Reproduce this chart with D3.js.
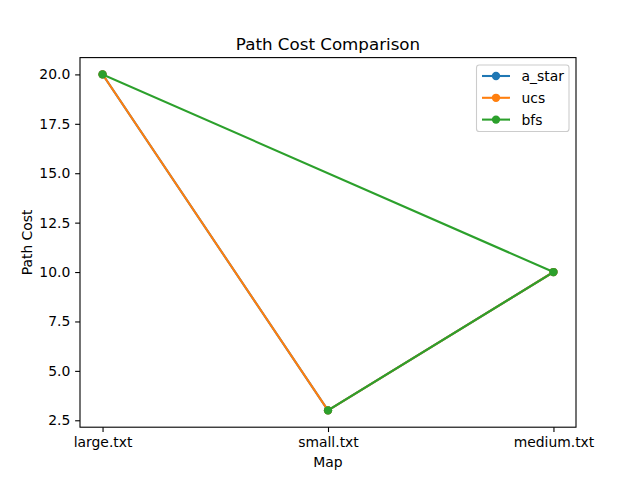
<!DOCTYPE html>
<html><head><meta charset="utf-8">
<script src="https://cdn.jsdelivr.net/npm/d3@7"></script>
<style>body{margin:0;background:#fff}svg{display:block;font-family:"DejaVu Sans",sans-serif}</style>
</head><body>
<svg id="c" width="640" height="480"></svg>
<script>
const categories = ["large.txt", "small.txt", "medium.txt"];
const seriesNames = ["a_star", "ucs", "bfs"];
const colors = ["#1f77b4", "#ff7f0e", "#2ca02c"];
const aStarMaps = ["large.txt", "small.txt", "medium.txt"];
const aStarCost = [20, 3, 10];
const ucsMaps = ["large.txt", "small.txt", "medium.txt"];
const ucsCost = [20, 3, 10];
const bfsMaps = ["large.txt", "medium.txt", "small.txt"];
const bfsCost = [20, 10, 3];
const yTicks = [2.5, 5.0, 7.5, 10.0, 12.5, 15.0, 17.5, 20.0];

const series = [
  {name: seriesNames[0], maps: aStarMaps, cost: aStarCost, color: colors[0]},
  {name: seriesNames[1], maps: ucsMaps, cost: ucsCost, color: colors[1]},
  {name: seriesNames[2], maps: bfsMaps, cost: bfsCost, color: colors[2]},
];

const svg = d3.select("#c");
const L = 80, R = 576, T = 57.6, B = 427.2;
const idx = d3.scaleLinear().domain([-0.1, 2.1]).range([L, R]);
const x = c => idx(categories.indexOf(c));
const allV = [].concat(aStarCost, ucsCost, bfsCost);
const mn = d3.min(allV), mx = d3.max(allV), pad = (mx - mn) * 0.05;
const y = d3.scaleLinear().domain([mn - pad, mx + pad]).range([B, T]);

// axes
const xAxis = d3.axisBottom(d3.scalePoint().domain(categories).range([idx(0), idx(2)]))
  .tickSizeInner(4.86).tickSizeOuter(0).tickPadding(4.86);
const gx = svg.append("g").attr("transform", `translate(0,${B})`).call(xAxis);
const yAxis = d3.axisLeft(y).tickValues(yTicks).tickFormat(d3.format(".1f"))
  .tickSizeInner(4.86).tickSizeOuter(0).tickPadding(4.86);
const gy = svg.append("g").attr("transform", `translate(${L},0)`).call(yAxis);
[gx, gy].forEach(g => {
  g.select(".domain").remove();
  g.selectAll(".tick line").attr("stroke", "#000").attr("stroke-width", 1.1);
  g.selectAll(".tick text").attr("font-size", "13.9px").attr("fill", "#000")
   .attr("font-family", "DejaVu Sans");
});

// lines
const line = d3.line().x(d => x(d[0])).y(d => y(d[1]));
series.forEach(s => {
  const pts = s.maps.map((m, i) => [m, s.cost[i]]);
  svg.append("path").datum(pts).attr("d", line).attr("fill", "none")
    .attr("stroke", s.color).attr("stroke-width", 2.08).attr("stroke-linejoin", "round")
    .attr("stroke-linecap", "square");
  svg.selectAll(null).data(pts).enter().append("circle")
    .attr("cx", d => x(d[0])).attr("cy", d => y(d[1])).attr("r", 4.17)
    .attr("fill", s.color);
});

// frame
svg.append("rect").attr("x", L).attr("y", T).attr("width", R - L).attr("height", B - T)
  .attr("fill", "none").attr("stroke", "#000").attr("stroke-width", 1.1);

// labels
svg.append("text").attr("x", (L + R) / 2).attr("y", 49.5).attr("text-anchor", "middle")
  .attr("font-size", "16.7px").text("Path Cost Comparison");
svg.append("text").attr("x", (L + R) / 2).attr("y", 467).attr("text-anchor", "middle")
  .attr("font-size", "13.9px").text("Map");
svg.append("text").attr("transform", `translate(31.5,${(T + B) / 2}) rotate(-90)`)
  .attr("text-anchor", "middle").attr("font-size", "13.9px").text("Path Cost");

// legend
const lg = svg.append("g");
lg.append("rect").attr("x", 476.5).attr("y", 65).attr("width", 92.5).attr("height", 66.5)
  .attr("rx", 2.8).attr("fill", "#fff").attr("fill-opacity", 0.8)
  .attr("stroke", "#ccc").attr("stroke-width", 1.1);
series.forEach((s, i) => {
  const yy = 76 + i * 21.8;
  lg.append("line").attr("x1", 482).attr("x2", 510).attr("y1", yy).attr("y2", yy)
    .attr("stroke", s.color).attr("stroke-width", 2.08);
  lg.append("circle").attr("cx", 496).attr("cy", yy).attr("r", 4.17).attr("fill", s.color);
  lg.append("text").attr("x", 521.5).attr("y", yy + 4.9).attr("font-size", "13.9px").text(s.name);
});
</script>
</body></html>
